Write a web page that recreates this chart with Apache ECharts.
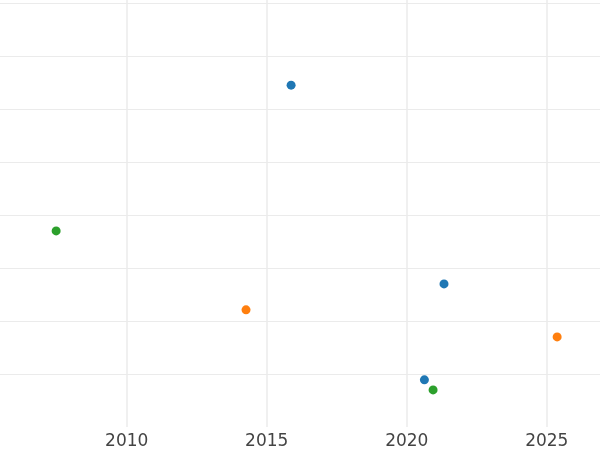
<!DOCTYPE html>
<html>
<head>
<meta charset="utf-8">
<script src="https://cdn.jsdelivr.net/npm/echarts@6/dist/echarts.min.js"></script>
<style>html,body{margin:0;padding:0;background:#fff;overflow:hidden}#c{width:600px;height:450px}</style>
</head>
<body>
<div id="c"></div>
<script>
var xTicks = [2010, 2015, 2020, 2025];
var seriesNames = ['A', 'B', 'C'];
var seriesColors = ['#1f77b4', '#ff7f0e', '#2ca02c'];
var seriesA = [[2015.87, 6.45], [2021.33, 2.70], [2020.63, 0.89]];
var seriesB = [[2014.26, 2.21], [2025.37, 1.70]];
var seriesC = [[2007.48, 3.70], [2020.94, 0.70]];
var allData = [seriesA, seriesB, seriesC];

var chart = echarts.init(document.getElementById('c'), null, {renderer: 'canvas'});
chart.setOption({
  animation: false,
  backgroundColor: '#ffffff',
  grid: {left: 0, right: 0, top: 0, bottom: 23, containLabel: false},
  xAxis: {
    type: 'value', min: 2005.475, max: 2026.9, splitNumber: 5,
    axisLine: {show: false}, axisTick: {show: false},
    axisLabel: {
      fontFamily: 'DejaVu Sans', fontSize: 17, color: '#444444', margin: 6,
      showMinLabel: false, showMaxLabel: false,
      formatter: function (v) { return xTicks.indexOf(v) >= 0 ? String(v) : ''; }
    },
    splitLine: {show: true, showMinLine: false, showMaxLine: false, lineStyle: {color: '#ebebeb', width: 1.5}}
  },
  yAxis: {
    type: 'value', min: 0, max: 8.0566, interval: 1,
    axisLine: {show: false}, axisTick: {show: false}, axisLabel: {show: false},
    splitLine: {show: true, showMinLine: false, showMaxLine: false, lineStyle: {color: '#ebebeb', width: 1}}
  },
  series: allData.map(function (d, i) {
    return {
      name: seriesNames[i], type: 'scatter', data: d,
      symbol: 'circle', symbolSize: 9,
      itemStyle: {color: seriesColors[i], opacity: 1}
    };
  })
});
</script>
</body>
</html>
